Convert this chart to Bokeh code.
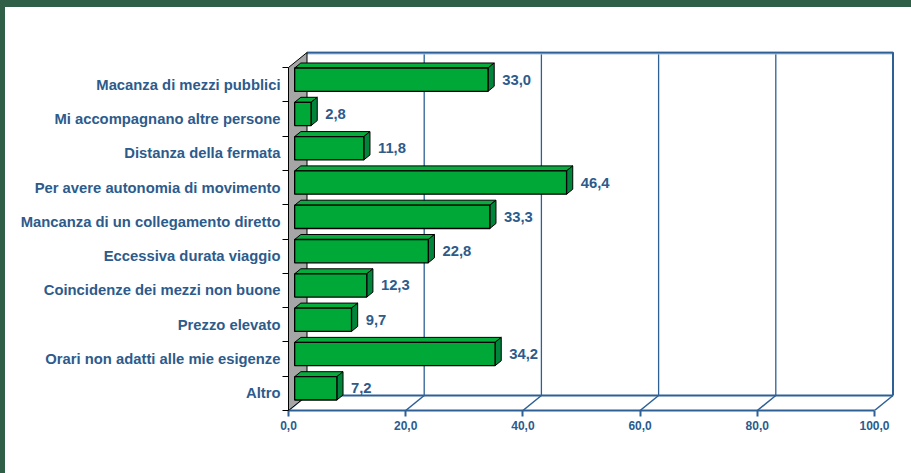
from bokeh.plotting import figure
from bokeh.models import Range1d, FixedTicker, ColumnDataSource
from bokeh.core.properties import value
from bokeh.embed import file_html
from bokeh.resources import INLINE

# ---- data ----
categories = [
    "Macanza di mezzi pubblici",
    "Mi accompagnano altre persone",
    "Distanza della fermata",
    "Per avere autonomia di movimento",
    "Mancanza di un collegamento diretto",
    "Eccessiva durata viaggio",
    "Coincidenze dei mezzi non buone",
    "Prezzo elevato",
    "Orari non adatti alle mie esigenze",
    "Altro",
]
values = [33.0, 2.8, 11.8, 46.4, 33.3, 22.8, 12.3, 9.7, 34.2, 7.2]
value_labels = ["33,0", "2,8", "11,8", "46,4", "33,3", "22,8", "12,3", "9,7", "34,2", "7,2"]
x_ticks = [0, 20, 40, 60, 80, 100]
x_tick_labels = ["0,0", "20,0", "40,0", "60,0", "80,0", "100,0"]

# ---- style / geometry ----
BLUE_TXT = "#2C5B8C"
BLUE_LN = "#2E6095"
GREEN_F = "#00A838"
GREEN_T = "#06AC3C"
GREEN_S = "#00853A"
WALL = "#A6A6A6"
FONT = "Liberation Sans"

SX = 5.86      # px per value unit
SY = 34.3      # px per category unit
DX = 18.5 / SX  # depth offset (value units)
DY = 15.0 / SY  # depth offset (category units)
BAR_H = 0.68

n = len(categories)
XMAX = x_ticks[-1]

W, H = 911, 473
left, top = 288, 51
frame_w, frame_h = 606, 359

p = figure(width=W, height=H, output_backend="svg", toolbar_location=None,
           x_range=Range1d(0, frame_w / SX), y_range=Range1d(0, frame_h / SY),
           min_border_left=left, min_border_right=W - left - frame_w,
           min_border_top=top, min_border_bottom=H - top - frame_h,
           background_fill_color="white", border_fill_color="white",
           border_fill_alpha=0)
p.outline_line_color = None
p.grid.visible = False

# ---- x axis (front edge of floor) ----
xa = p.xaxis[0]
xa.ticker = FixedTicker(ticks=x_ticks, minor_ticks=[])
xa.major_label_overrides = {t: l for t, l in zip(x_ticks, x_tick_labels)}
xa.bounds = (0, XMAX)
xa.axis_line_color = BLUE_LN
xa.axis_line_width = 2
xa.major_tick_line_color = BLUE_LN
xa.major_tick_line_width = 2
xa.major_tick_out = 6
xa.major_tick_in = 0
xa.minor_tick_line_color = None
xa.major_label_standoff = 4
xa.major_label_text_font = FONT
xa.major_label_text_font_style = "bold"
xa.major_label_text_font_size = "12px"
xa.major_label_text_color = BLUE_TXT

# ---- y axis (categories) ----
ya = p.yaxis[0]
centers = [n - i - 0.5 for i in range(n)]
ya.ticker = FixedTicker(ticks=centers, minor_ticks=list(range(n + 1)))
ya.major_label_overrides = {c: lab for c, lab in zip(centers, categories)}
ya.bounds = (0, n)
ya.axis_line_color = "black"
ya.axis_line_width = 1
ya.major_tick_line_color = None
ya.major_tick_out = 0
ya.major_tick_in = 0
ya.minor_tick_line_color = "black"
ya.minor_tick_out = 6
ya.minor_tick_in = 0
ya.major_label_standoff = 2
ya.major_label_text_font = FONT
ya.major_label_text_font_style = "bold"
ya.major_label_text_font_size = "14.8px"
ya.major_label_text_color = BLUE_TXT

# ---- back wall gridlines ----
grid_x = [t + DX for t in x_ticks[1:-1]]
p.segment(x0=grid_x, y0=[DY] * len(grid_x), x1=grid_x, y1=[n + DY] * len(grid_x),
          line_color=BLUE_LN, line_width=1.3)
# back wall top / right / bottom
p.line(x=[DX, XMAX + DX], y=[n + DY, n + DY], line_color="#A9C1DB", line_width=4)
p.line(x=[DX, XMAX + DX, XMAX + DX], y=[n + DY, n + DY, DY], line_color=BLUE_LN, line_width=2)
p.line(x=[DX, XMAX + DX], y=[DY, DY], line_color=BLUE_LN, line_width=2)
# floor depth lines
p.segment(x0=x_ticks, y0=[0] * len(x_ticks), x1=[t + DX for t in x_ticks], y1=[DY] * len(x_ticks),
          line_color=BLUE_LN, line_width=1.5)

# ---- left side wall ----
p.patch(x=[0, DX, DX, 0], y=[0, DY, n + DY, n], fill_color=WALL, line_color="black", line_width=1)

# ---- bars ----
d1x, d1y = DX / 3, DY / 3
d2x, d2y = 2 * DX / 3, 2 * DY / 3
front_xs, front_ys, top_xs, top_ys, side_xs, side_ys = [], [], [], [], [], []
for c, v in zip(centers, values):
    b, t = c - BAR_H / 2, c + BAR_H / 2
    front_xs.append([d1x, v + d1x, v + d1x, d1x])
    front_ys.append([b + d1y, b + d1y, t + d1y, t + d1y])
    top_xs.append([d1x, v + d1x, v + d2x, d2x])
    top_ys.append([t + d1y, t + d1y, t + d2y, t + d2y])
    side_xs.append([v + d1x, v + d2x, v + d2x, v + d1x])
    side_ys.append([b + d1y, b + d2y, t + d2y, t + d1y])

order = list(range(n))[::-1]
for i in order:
    p.patch(x=top_xs[i], y=top_ys[i], fill_color=GREEN_T, line_color="black", line_width=1)
    p.patch(x=side_xs[i], y=side_ys[i], fill_color=GREEN_S, line_color="black", line_width=1)
    p.patch(x=front_xs[i], y=front_ys[i], fill_color=GREEN_F, line_color="black", line_width=1.3)

# ---- value labels ----
lab_src = ColumnDataSource(dict(
    x=[v + d2x for v in values],
    y=[c + d1y for c in centers],
    t=value_labels,
))
p.text(x="x", y="y", text="t", source=lab_src, x_offset=8,
       text_font=value(FONT), text_font_style="bold", text_font_size="14.8px",
       text_color=BLUE_TXT, text_baseline="middle", text_align="left")

html = file_html(p, INLINE)
css = ("<style>body{background:"
       "linear-gradient(#2F5F47,#2F5F47) 0 0/100% 7px no-repeat,"
       "linear-gradient(#2F5F47,#2F5F47) 0 0/5px 100% no-repeat,#ffffff;}</style>")
html = html.replace("</head>", css + "</head>", 1)
open("out.html", "w").write(html)
